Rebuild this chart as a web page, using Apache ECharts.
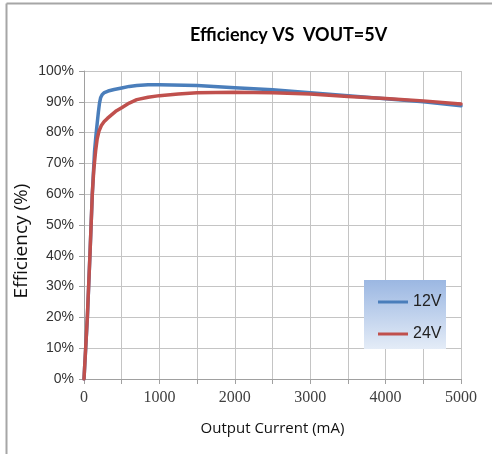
<!DOCTYPE html>
<html>
<head>
<meta charset="utf-8">
<script src="https://cdn.jsdelivr.net/npm/echarts@6/dist/echarts.min.js"></script>
<style>
html,body{margin:0;padding:0;background:#fff;}
#c{width:492px;height:454px;}
</style>
</head>
<body>
<div id="c"></div>
<script>
// Data
var titleText = 'Efficiency VS  VOUT=5V';
var yAxisTitle = 'Efficiency (%)';
var xAxisTitle = 'Output Current (mA)';
var seriesNames = ['12V', '24V'];
var current12 = [0, 45, 80, 110, 140, 160, 177, 190, 205, 220, 240, 270, 320, 400, 500, 600, 700, 850, 1000, 1500, 2000, 2500, 3000, 3500, 4000, 4500, 5000];
var eff12     = [0, 20, 41, 60, 74, 79.5, 83.5, 86.5, 89.5, 91.3, 92.3, 93.0, 93.5, 94.0, 94.5, 95.0, 95.3, 95.5, 95.5, 95.3, 94.6, 93.9, 92.9, 92.0, 91.0, 90.0, 88.7];
var current24 = [0, 44, 80, 110, 130, 154, 175, 199, 230, 265, 310, 353, 420, 500, 600, 700, 850, 1000, 1250, 1500, 2000, 2500, 3000, 3500, 4000, 4500, 5000];
var eff24     = [0, 20, 41, 60, 68, 74, 78, 80.5, 82.3, 83.5, 84.6, 85.5, 86.9, 88.1, 89.6, 90.7, 91.5, 92.0, 92.5, 92.9, 93.1, 92.9, 92.5, 91.7, 91.1, 90.3, 89.3];
var xTicks = [0, 1000, 2000, 3000, 4000, 5000];
var yTicks = [0, 10, 20, 30, 40, 50, 60, 70, 80, 90, 100];

function pairs(xs, ys) { return xs.map(function (x, i) { return [x, ys[i]]; }); }

var chart = echarts.init(document.getElementById('c'), null, {renderer: 'canvas'});
chart.setOption({
  backgroundColor: '#ffffff',
  animation: false,
  title: {
    text: titleText,
    left: 185, top: 21,
    textStyle: {fontFamily: 'Lato', fontWeight: 'bold', fontSize: 18, color: '#000'}
  },
  graphic: [
    {type: 'line', shape: {x1: 6.5, y1: 3.5, x2: 492, y2: 3.5}, style: {stroke: '#a6a6a6', lineWidth: 2}, z: 0},
    {type: 'line', shape: {x1: 6.5, y1: 3.5, x2: 6.5, y2: 454}, style: {stroke: '#a6a6a6', lineWidth: 2}, z: 0},
    {type: 'rect', shape: {x: 364, y: 280, width: 82, height: 69},
     style: {fill: new echarts.graphic.LinearGradient(0, 0, 0, 1, [
       {offset: 0, color: '#9bb7e2'}, {offset: 1, color: '#e4ecf7'}])}, z: 5},
    {type: 'text', x: 22, y: 241, rotation: Math.PI / 2,
     style: {text: yAxisTitle, fontFamily: 'Open Sans', fontSize: 19, fill: '#111', align: 'center', verticalAlign: 'middle'}, z: 10}
  ],
  legend: {
    orient: 'vertical',
    left: 373, top: 289,
    itemWidth: 30, itemHeight: 3, itemGap: 16,
    icon: 'rect',
    data: seriesNames,
    textStyle: {fontFamily: 'Liberation Sans', fontSize: 16, color: '#222'},
    z: 10
  },
  grid: {left: 84, right: 31, top: 71, bottom: 75, containLabel: false},
  xAxis: {
    type: 'value', min: 0, max: 5000, interval: 500,
    name: xAxisTitle, nameLocation: 'middle', nameGap: 42,
    nameTextStyle: {fontFamily: 'Open Sans', fontSize: 15, color: '#111'},
    axisLine: {lineStyle: {color: '#a0a0a0'}},
    axisTick: {show: true, length: 5, lineStyle: {color: '#a0a0a0'}},
    axisLabel: {
      margin: 11,
      fontFamily: 'Liberation Serif', fontSize: 16, color: '#404040',
      formatter: function (v) { return xTicks.indexOf(v) >= 0 ? String(v) : ''; }
    },
    splitLine: {show: true, lineStyle: {color: '#c4c4c4', width: 1}}
  },
  yAxis: {
    type: 'value', min: 0, max: 100, interval: 10,
    axisLine: {show: true, lineStyle: {color: '#a0a0a0'}},
    axisTick: {show: true, length: 5, lineStyle: {color: '#a0a0a0'}},
    axisLabel: {
      margin: 10,
      fontFamily: 'Liberation Sans', fontSize: 14, color: '#333',
      formatter: function (v) { return yTicks.indexOf(v) >= 0 ? v + '%' : ''; }
    },
    splitLine: {show: true, lineStyle: {color: '#c4c4c4', width: 1}}
  },
  series: [
    {name: seriesNames[0], type: 'line', data: pairs(current12, eff12), showSymbol: false,
     smooth: false, lineStyle: {color: '#4a7ebb', width: 3.5, join: 'round', cap: 'round'}, itemStyle: {color: '#4a7ebb'}, z: 3},
    {name: seriesNames[1], type: 'line', data: pairs(current24, eff24), showSymbol: false,
     smooth: false, lineStyle: {color: '#c0504d', width: 3.5, join: 'round', cap: 'round'}, itemStyle: {color: '#c0504d'}, z: 4}
  ]
});
</script>
</body>
</html>
